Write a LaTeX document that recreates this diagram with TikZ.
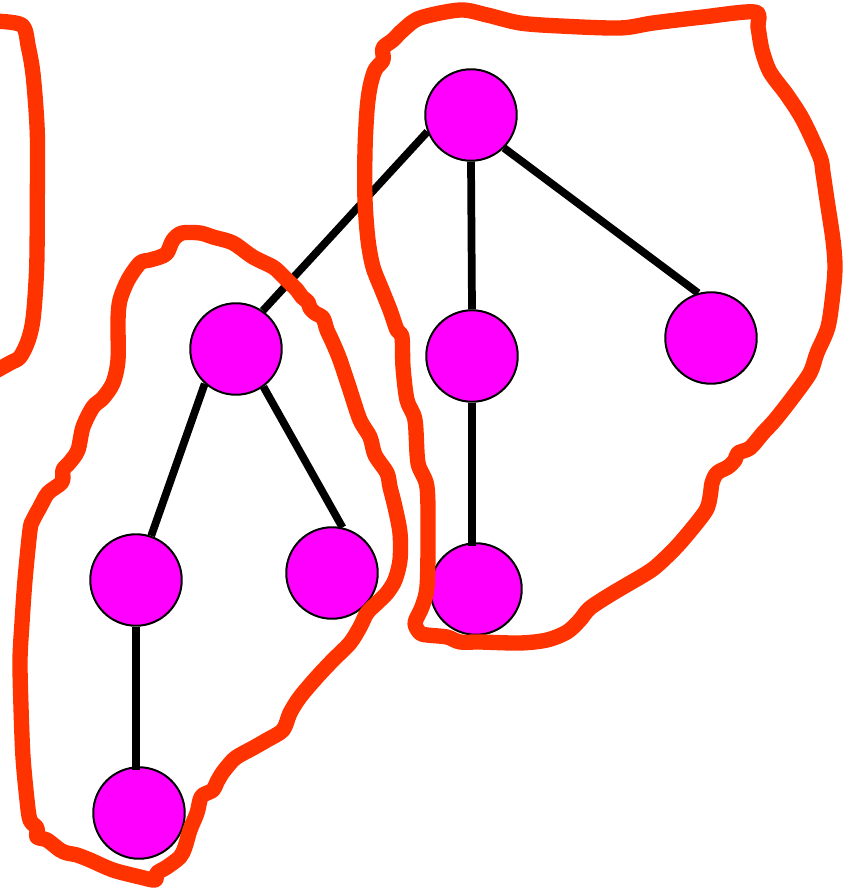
\documentclass[tikz,border=0pt]{standalone}
\definecolor{hull}{HTML}{FF3300}
\definecolor{vfill}{HTML}{FF00FF}
\begin{document}
\begin{tikzpicture}[x=0.75pt,y=-0.75pt,
  vtx/.style={circle,draw=black,line width=1.5pt,fill=vfill,minimum size=68.6pt,inner sep=0pt},
  edge/.style={line width=5.8pt,black},
  outline/.style={hull,line width=11.5pt,line join=round,line cap=round}]
\useasboundingbox (0,0) rectangle (842,888);
% nodes
\node[vtx] (A) at (471,115) {};
\node[vtx] (B) at (236,349) {};
\node[vtx] (C) at (472,356) {};
\node[vtx] (D) at (711,338) {};
\node[vtx] (E) at (136,580) {};
\node[vtx] (F) at (332,573) {};
\node[vtx] (G) at (476,589) {};
\node[vtx] (H) at (139,813) {};
% edges
\draw[edge] (A.201) -- (B.55);
\draw[edge] (A.south) -- (C.north);
\draw[edge] (A.-45) -- (D.106);
\draw[edge] (B.228) -- (E.71);
\draw[edge] (B.-54) -- (F.77);
\draw[edge] (C.south) -- ([yshift=-3pt]C.south |- G.north);
\draw[edge] (E.south) -- ([yshift=-3pt]E.south |- H.north);
% outlines
\draw[outline] plot[smooth,tension=0.5] coordinates {(-8,21) (21.7,25) (28.3,46.7) (33.3,76.7) (37.3,133) (37.3,200) (36.7,267) (33.3,317) (28.3,340) (20,357) (10,363) (-8,373)};
\draw[outline] plot[smooth cycle,tension=0.5] coordinates {(200,233) (213,237) (233,243) (253,257) (273,267) (282,275) (290,283) (297,290) (302,297) (308,302) (310,308) (315,313) (323,318) (327,330) (333,343) (340,360) (350,390) (360,420) (370,437) (375,455) (387,473) (390,487) (395,507) (400,533) (400,560) (395,580) (387,593) (377,603) (367,613) (360,627) (350,643) (333,660) (317,677) (300,697) (290,713) (283,730) (267,740) (253,748) (240,755) (233,760) (223,772) (217,782) (213,790) (203,795) (200,800) (197,813) (190,830) (185,847) (180,857) (167,867) (157,873) (155,880) (140,877) (113,870) (90,860) (77,855) (67,853) (60,850) (47,840) (37,837) (37,828) (30,820) (27,800) (23,757) (21,707) (20,660) (22,623) (25,580) (30,530) (33,520) (40,507) (48,493) (62,482) (63,470) (70,462) (78,450) (83,427) (93,407) (103,398) (113,383) (118,360) (118,320) (120,300) (128,280) (140,263) (150,260) (160,257) (167,253) (173,240) (182,233)};
\draw[outline] plot[smooth cycle,tension=0.5] coordinates {(420,18) (460,10) (487,15) (520,23) (560,26) (620,28) (653,23) (703,17) (755,12) (758,27) (762,50) (770,72) (787,95) (803,120) (820,157) (823,173) (827,200) (833,240) (835,267) (833,293) (828,327) (817,353) (810,373) (793,397) (775,420) (763,433) (750,448) (738,453) (735,460) (728,467) (717,473) (712,483) (710,497) (705,512) (680,543) (660,563) (647,573) (613,593) (590,608) (580,620) (567,632) (547,640) (520,643) (480,642) (460,642) (447,637) (427,635) (420,633) (415,623) (422,607) (427,587) (428,540) (427,487) (418,463) (415,420) (407,400) (403,367) (402,337) (397,330) (390,310) (382,290) (373,267) (368,240) (365,200) (365,150) (367,110) (370,87) (375,70) (383,60) (383,48) (393,40) (403,30)};
\end{tikzpicture}
\end{document}
